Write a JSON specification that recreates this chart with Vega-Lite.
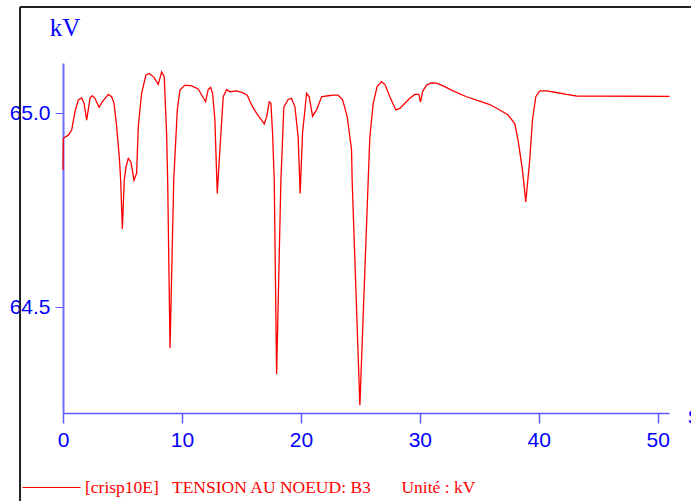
{
  "$schema": "https://vega.github.io/schema/vega-lite/v6.json",
  "width": 606,
  "height": 350,
  "autosize": {"type": "none"},
  "padding": {"left": 63, "top": 63, "right": 22, "bottom": 88},
  "background": "white",
  "config": {"view": {"stroke": null}},
  "layer": [
    {
      "data": {"values": [{}]},
      "mark": {"type": "rule", "stroke": "#222222", "strokeWidth": 2, "clip": false},
      "encoding": {
        "x": {"datum": -3.613, "type": "quantitative"},
        "y": {"datum": 65.273, "type": "quantitative"},
        "y2": {"datum": 63.9}
      }
    },
    {
      "data": {"values": [{}]},
      "mark": {"type": "rule", "stroke": "#222222", "strokeWidth": 2, "clip": false},
      "encoding": {
        "x": {"datum": -3.613, "type": "quantitative"},
        "x2": {"datum": 54},
        "y": {"datum": 65.273, "type": "quantitative"}
      }
    },
    {
      "data": {
        "values": [
          {"t": 0, "v": 64.853}, {"t": 0.03, "v": 64.935}, {"t": 0.45, "v": 64.943}, {"t": 0.73, "v": 64.956},
          {"t": 1.0, "v": 65.003}, {"t": 1.29, "v": 65.034}, {"t": 1.57, "v": 65.039}, {"t": 1.77, "v": 65.025},
          {"t": 1.99, "v": 64.982}, {"t": 2.27, "v": 65.038}, {"t": 2.46, "v": 65.045}, {"t": 2.69, "v": 65.038},
          {"t": 3.03, "v": 65.015}, {"t": 3.30, "v": 65.029}, {"t": 3.81, "v": 65.048}, {"t": 4.09, "v": 65.042},
          {"t": 4.29, "v": 65.025}, {"t": 4.51, "v": 64.965}, {"t": 4.73, "v": 64.887}, {"t": 4.85, "v": 64.827},
          {"t": 4.99, "v": 64.701}, {"t": 5.15, "v": 64.827}, {"t": 5.30, "v": 64.862}, {"t": 5.49, "v": 64.883},
          {"t": 5.71, "v": 64.874}, {"t": 5.97, "v": 64.827}, {"t": 6.19, "v": 64.845}, {"t": 6.33, "v": 64.965},
          {"t": 6.61, "v": 65.051}, {"t": 6.97, "v": 65.098}, {"t": 7.25, "v": 65.102}, {"t": 7.65, "v": 65.092},
          {"t": 8.01, "v": 65.074}, {"t": 8.29, "v": 65.106}, {"t": 8.51, "v": 65.094}, {"t": 8.71, "v": 64.948},
          {"t": 8.80, "v": 64.827}, {"t": 9.0, "v": 64.394}, {"t": 9.31, "v": 64.827}, {"t": 9.61, "v": 65.008},
          {"t": 9.83, "v": 65.059}, {"t": 10.25, "v": 65.072}, {"t": 10.82, "v": 65.070}, {"t": 11.37, "v": 65.062},
          {"t": 11.99, "v": 65.029}, {"t": 12.21, "v": 65.061}, {"t": 12.41, "v": 65.066}, {"t": 12.58, "v": 65.051},
          {"t": 12.77, "v": 64.982}, {"t": 12.97, "v": 64.793}, {"t": 13.19, "v": 64.905}, {"t": 13.47, "v": 65.042},
          {"t": 13.76, "v": 65.061}, {"t": 14.03, "v": 65.055}, {"t": 14.60, "v": 65.057}, {"t": 15.15, "v": 65.052},
          {"t": 15.49, "v": 65.046}, {"t": 15.86, "v": 65.021}, {"t": 16.28, "v": 64.999}, {"t": 16.92, "v": 64.972},
          {"t": 17.12, "v": 64.990}, {"t": 17.34, "v": 65.029}, {"t": 17.48, "v": 65.025}, {"t": 17.62, "v": 64.948},
          {"t": 17.76, "v": 64.827}, {"t": 17.96, "v": 64.327}, {"t": 18.32, "v": 64.827}, {"t": 18.57, "v": 65.016},
          {"t": 18.93, "v": 65.035}, {"t": 19.21, "v": 65.038}, {"t": 19.50, "v": 65.016}, {"t": 19.77, "v": 64.939},
          {"t": 19.94, "v": 64.793}, {"t": 20.14, "v": 64.948}, {"t": 20.48, "v": 65.051}, {"t": 20.70, "v": 65.042},
          {"t": 20.98, "v": 64.992}, {"t": 21.32, "v": 65.008}, {"t": 21.74, "v": 65.042}, {"t": 22.16, "v": 65.044},
          {"t": 22.71, "v": 65.046}, {"t": 23.13, "v": 65.046}, {"t": 23.50, "v": 65.035}, {"t": 23.9, "v": 64.990},
          {"t": 24.26, "v": 64.905}, {"t": 24.31, "v": 64.827}, {"t": 24.96, "v": 64.247}, {"t": 25.66, "v": 64.827},
          {"t": 25.8, "v": 64.939}, {"t": 26.08, "v": 65.025}, {"t": 26.41, "v": 65.068}, {"t": 26.78, "v": 65.081},
          {"t": 27.06, "v": 65.074}, {"t": 27.48, "v": 65.042}, {"t": 27.98, "v": 65.008}, {"t": 28.32, "v": 65.012},
          {"t": 29.16, "v": 65.038}, {"t": 29.58, "v": 65.048}, {"t": 29.92, "v": 65.048}, {"t": 30.06, "v": 65.028},
          {"t": 30.23, "v": 65.055}, {"t": 30.56, "v": 65.072}, {"t": 30.98, "v": 65.078}, {"t": 31.40, "v": 65.077},
          {"t": 31.96, "v": 65.070}, {"t": 32.8, "v": 65.057}, {"t": 33.92, "v": 65.042}, {"t": 35.04, "v": 65.031},
          {"t": 35.88, "v": 65.022}, {"t": 36.72, "v": 65.008}, {"t": 37.42, "v": 64.995}, {"t": 37.98, "v": 64.973},
          {"t": 38.26, "v": 64.930}, {"t": 38.63, "v": 64.853}, {"t": 38.91, "v": 64.771}, {"t": 39.24, "v": 64.879},
          {"t": 39.47, "v": 64.982}, {"t": 39.75, "v": 65.042}, {"t": 40.08, "v": 65.057}, {"t": 40.65, "v": 65.057},
          {"t": 41.49, "v": 65.053}, {"t": 42.33, "v": 65.048}, {"t": 43.17, "v": 65.044}, {"t": 51.0, "v": 65.043}
        ]
      },
      "transform": [
        {"calculate": "'[crisp10E]\u00a0\u00a0\u00a0TENSION AU NOEUD: B3\u00a0\u00a0\u00a0\u00a0\u00a0\u00a0\u00a0Unité : kV'", "as": "serie"}
      ],
      "mark": {"type": "line", "strokeWidth": 1.3, "interpolate": "linear"},
      "encoding": {
        "x": {
          "field": "t", "type": "quantitative",
          "scale": {"domain": [0, 50.95], "nice": false, "zero": false},
          "axis": {
            "values": [0, 10, 20, 30, 40, 50],
            "grid": false, "labelFlush": false,
            "domainColor": "#5a5aff", "domainWidth": 1.5,
            "tickColor": "#5a5aff", "tickSize": 10, "tickWidth": 1.5,
            "labelFont": "Liberation Sans Narrow, Liberation Sans",
            "labelFontSize": 21, "labelColor": "#0000ff", "labelPadding": 6,
            "title": "S", "titleX": 624, "titleY": 10, "titleAlign": "left", "titleBaseline": "alphabetic",
            "titleColor": "#0000ff", "titleFontWeight": "normal", "titleFontSize": 21,
            "titleFont": "Liberation Sans Narrow, Liberation Sans"
          }
        },
        "y": {
          "field": "v", "type": "quantitative",
          "scale": {"domain": [64.227, 65.129], "nice": false, "zero": false},
          "axis": {
            "values": [64.5, 65.0], "format": ".1f",
            "grid": false, "labelFlush": false,
            "domainColor": "#6f6fff", "domainWidth": 2,
            "tickColor": "#5a5aff", "tickSize": 8, "tickWidth": 1,
            "labelFont": "Liberation Sans Narrow, Liberation Sans",
            "labelFontSize": 21, "labelColor": "#0000ff", "labelPadding": 5,
            "title": "kV", "titleAngle": 0, "titleX": 1.5, "titleY": -28, "titleAlign": "center", "titleBaseline": "alphabetic",
            "titleColor": "#0000ff", "titleFontWeight": "normal", "titleFontSize": 25, "titleFont": "Liberation Serif"
          }
        },
        "color": {
          "field": "serie", "type": "nominal",
          "scale": {"range": ["#ff0000"]},
          "legend": {
            "orient": "none", "legendX": -41, "legendY": 395, "title": null,
            "symbolType": "stroke", "symbolSize": 3364, "symbolStrokeWidth": 1,
            "labelFont": "Liberation Serif", "labelFontSize": 17.5, "labelColor": "#ff0000",
            "labelOffset": 4, "labelLimit": 700
          }
        }
      }
    }
  ]
}
